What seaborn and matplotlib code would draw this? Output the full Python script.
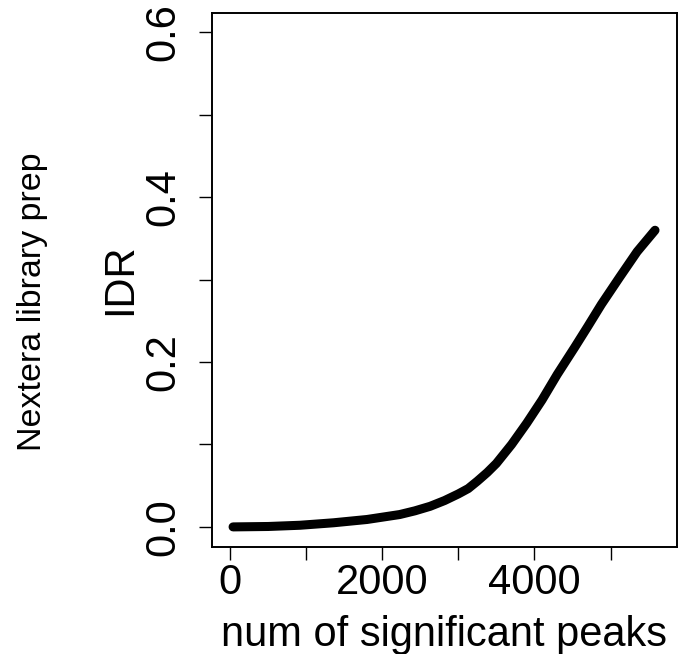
import matplotlib
matplotlib.use("Agg")
import matplotlib.pyplot as plt
import seaborn as sns
import pandas as pd

# valores (num de picos vs IDR)
num_picos = [40, 500, 920, 1360, 1800, 2230, 2430, 2630, 2820, 3000, 3130,
             3250, 3380, 3500, 3700, 3900, 4100, 4300, 4530, 4700, 4880,
             5120, 5350, 5585]
idr = [0.0, 0.0005, 0.002, 0.005, 0.009, 0.015, 0.0195, 0.025, 0.032, 0.040,
       0.0465, 0.0555, 0.066, 0.077, 0.100, 0.126, 0.154, 0.185, 0.218,
       0.243, 0.270, 0.303, 0.334, 0.360]

xticks = [0, 1000, 2000, 3000, 4000, 5000]
xtick_labels = ["0", "", "2000", "", "4000", ""]
yticks = [0.0, 0.1, 0.2, 0.3, 0.4, 0.5, 0.6]
ytick_labels = ["0.0", "", "0.2", "", "0.4", "", "0.6"]

df = pd.DataFrame({"picos": num_picos, "idr": idr})

sns.set_style("ticks")
plt.rcParams["font.family"] = ["Liberation Sans", "DejaVu Sans"]
plt.rcParams["text.color"] = "black"
plt.rcParams["axes.labelcolor"] = "black"
plt.rcParams["xtick.color"] = "black"
plt.rcParams["ytick.color"] = "black"

fig = plt.figure(figsize=(6.78, 6.54), dpi=100)
ax = fig.add_axes([0.3131, 0.1641, 0.6850, 0.8165])

sns.lineplot(data=df, x="picos", y="idr", ax=ax, color="black",
             linewidth=6.5, solid_capstyle="round", solid_joinstyle="round")

ax.set_xlim(-233, 5870)
ax.set_ylim(-0.024, 0.624)
ax.set_xticks(xticks)
ax.set_xticklabels(xtick_labels)
ax.set_yticks(yticks)
ax.set_yticklabels(ytick_labels, rotation=90, va="center")

for s in ax.spines.values():
    s.set_visible(True)
    s.set_linewidth(1.4)
    s.set_color("black")

ax.tick_params(axis="both", direction="out", length=9.5, width=1.0,
               color="black", labelcolor="black", labelsize=30)
ax.tick_params(axis="x", pad=2)
ax.tick_params(axis="y", pad=11.5)

ax.set_xlabel("num of significant peaks", fontsize=30, color="black")
ax.xaxis.set_label_coords(0.5, -0.128)
ax.set_ylabel("IDR", fontsize=30, color="black")
ax.yaxis.set_label_coords(-0.155, 0.5)

fig.text(0.048, 0.538, "Nextera library prep", rotation=90,
         ha="center", va="center", fontsize=24.5, color="black")

fig.savefig("out.png", dpi=100)
